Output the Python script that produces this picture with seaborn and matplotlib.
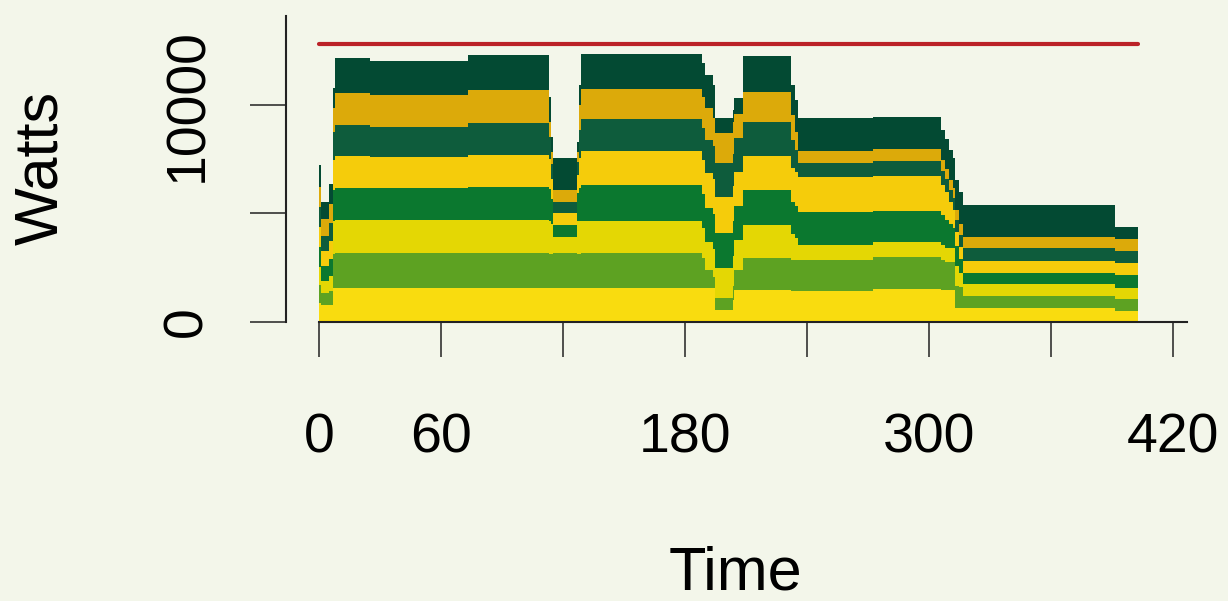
import pandas as pd
import seaborn as sns
import matplotlib
matplotlib.use("Agg")
import matplotlib.pyplot as plt

# breakpoints in seconds: each row of readings holds until the next breakpoint
time_s = [0, 1, 5, 7, 8, 25, 73.5, 113, 114, 115, 127, 128, 129,
          188.5, 190, 194, 195, 203.5, 204, 208.5, 232, 234, 235.5, 272.5,
          306, 308, 310, 312, 313, 315, 317, 391.5]
end_s = 403

# watts per node, node1 is the bottom of the stack
node1 = [880, 780, 780, 1570, 1580, 1580, 1580, 1570, 1570, 1580, 1570, 1570, 1580,
         1570, 1570, 1570, 550, 1010, 1470, 1470, 1430, 1430, 1430, 1510,
         1470, 1470, 1470, 1470, 650, 650, 660, 510]
node2 = [830, 550, 650, 1570, 1590, 1590, 1590, 1570, 1570, 1590, 1570, 1570, 1590,
         1380, 830, 510, 550, 650, 920, 1470, 1430, 1430, 1450, 1490,
         1380, 1290, 1290, 1290, 1010, 970, 520, 530]
node3 = [830, 550, 690, 1520, 1530, 1530, 1530, 1520, 1380, 740, 1520, 1520, 1490,
         1380, 1290, 1290, 1380, 1380, 1380, 1520, 1200, 1010, 690, 690,
         690, 650, 650, 650, 920, 650, 550, 550]
node4 = [920, 690, 780, 1430, 1490, 1460, 1530, 1470, 1150, 570, 1290, 1520, 1630,
         1570, 1570, 1610, 1610, 1610, 1570, 1610, 1470, 1470, 1500, 1430,
         1380, 1290, 1110, 920, 920, 650, 550, 570]
node5 = [920, 690, 830, 1380, 1460, 1430, 1460, 1380, 920, 540, 830, 1380, 1570,
         1570, 1610, 1610, 1660, 1610, 1570, 1570, 1570, 1570, 1590, 1600,
         1380, 1290, 1010, 830, 650, 550, 550, 540]
node6 = [920, 690, 830, 1290, 1430, 1410, 1460, 1010, 690, 530, 600, 1290, 1490,
         1470, 1520, 1520, 1570, 1470, 1570, 1570, 1290, 1010, 670, 690,
         650, 600, 550, 550, 550, 550, 570, 570]
node7 = [920, 780, 880, 1110, 1460, 1460, 1530, 690, 550, 540, 460, 1150, 1380,
         1430, 1470, 1290, 1380, 1470, 1110, 1380, 1150, 830, 540, 540,
         510, 460, 460, 460, 460, 510, 540, 540]
node8 = [1010, 780, 920, 920, 1610, 1570, 1610, 1150, 690, 1460, 460, 920, 1630,
         1570, 1520, 1520, 690, 550, 740, 1660, 1380, 1470, 1510, 1500,
         1380, 1380, 1380, 1380, 1380, 1470, 1470, 580]

# power cap line
cap_time = [0, 403]
cap_watts = [12800, 12800]

x_ticks = [0, 60, 120, 180, 240, 300, 360, 420]
x_labels = ["0", "60", "", "180", "", "300", "", "420"]
y_ticks = [0, 5000, 10000]
y_labels = ["0", "", "10000"]

nodes = {"node1": node1, "node2": node2, "node3": node3, "node4": node4,
         "node5": node5, "node6": node6, "node7": node7, "node8": node8}
node_colors = {"node1": "#f9dc0f", "node2": "#5da222", "node3": "#e4d704",
               "node4": "#0b782f", "node5": "#f5cc0b", "node6": "#0e5c3c",
               "node7": "#dcaa0a", "node8": "#034a33"}

rows = []
for name, vals in nodes.items():
    for t, w in zip(time_s, vals):
        rows.append({"time": t, "watts": w, "node": name})
df = pd.DataFrame(rows)
edges = time_s + [end_s]

bg = "#f3f6ea"
sns.set_theme(style="ticks", rc={"text.color": "black", "xtick.color": "#222222",
                                 "ytick.color": "#222222", "xtick.labelcolor": "black",
                                 "ytick.labelcolor": "black"})
plt.rcParams["font.family"] = ["Liberation Sans", "DejaVu Sans"]

fig = plt.figure(figsize=(12.28, 6.01), dpi=100, facecolor=bg)
ax = fig.add_axes([0.2329, 0.4642, 0.9666 - 0.2329, 0.9734 - 0.4642])
ax.set_facecolor(bg)

# last hue level ends up at the bottom of the stack
stack_order = list(nodes.keys())[::-1]
sns.histplot(data=df, x="time", weights="watts", hue="node", hue_order=stack_order,
             bins=edges, multiple="stack", element="step", stat="count",
             palette=node_colors, alpha=1, linewidth=0, legend=False, ax=ax)

sns.lineplot(x=cap_time, y=cap_watts, color="#bb2228", linewidth=3, ax=ax)

ax.set_xlim(-16.2, 427)
ax.set_ylim(0, 14100)
ax.set_xlabel("")
ax.set_ylabel("")

for s in ["top", "right"]:
    ax.spines[s].set_visible(False)
ax.spines["bottom"].set_bounds(0, 427)
for s in ["bottom", "left"]:
    ax.spines[s].set_linewidth(1.5)
    ax.spines[s].set_color("#222222")

ax.set_xticks(x_ticks)
ax.set_xticklabels(x_labels)
ax.set_yticks(y_ticks)
ax.set_yticklabels(y_labels, rotation=90, va="center")
ax.tick_params(axis="x", length=25, width=1.1, pad=40, labelsize=40)
ax.tick_params(axis="y", length=26, width=1.1, pad=26, labelsize=40)

fig.text(57 / 1228, 1 - 168 / 601, "Watts", rotation=90, rotation_mode="anchor",
         ha="center", va="baseline", fontsize=44, color="black")
fig.text(735 / 1228, 1 - 590 / 601, "Time", ha="center", va="baseline",
         fontsize=44, color="black")

fig.savefig("out.png", dpi=100, facecolor=bg)
